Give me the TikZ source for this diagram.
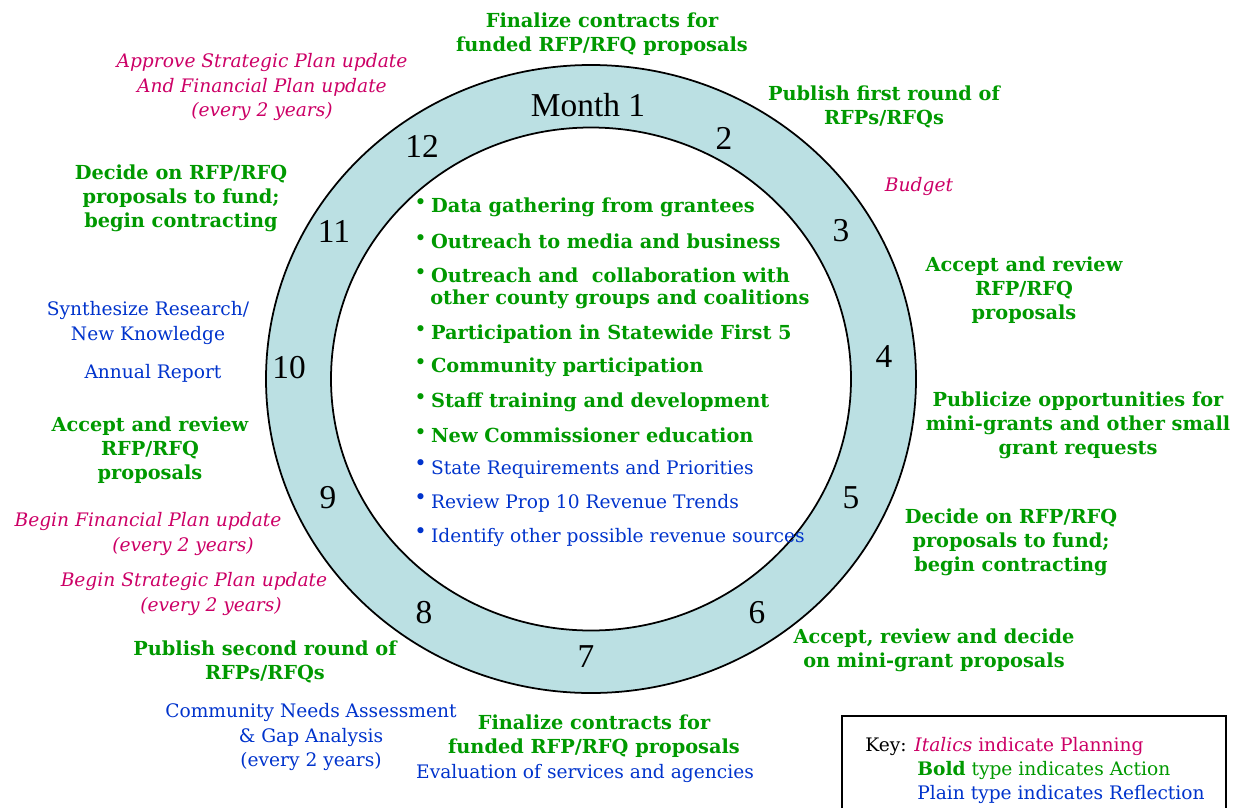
\documentclass[tikz,border=0pt]{standalone}
\usepackage{fontspec}
\setmainfont{DejaVu Serif}
\newfontfamily\numfont{Liberation Serif}
\definecolor{actgreen}{RGB}{0,153,0}
\definecolor{planpink}{RGB}{204,0,102}
\definecolor{refblue}{RGB}{0,51,204}
\definecolor{ringblue}{RGB}{187,224,227}
\newcommand{\labfont}{\fontsize{10.6}{13.7}\selectfont}
\newcommand{\actfont}{\fontsize{11}{13.7}\selectfont\bfseries}
\newcommand{\bul}{\makebox[9.5pt][l]{\raisebox{1.8pt}{\fontsize{12}{12}\selectfont\textbullet}}}

\begin{document}
\begin{tikzpicture}[x=0.02cm,y=-0.02cm]

    \tikzset{
      act/.style={text=actgreen, font=\actfont, align=center, inner sep=0pt},
      plan/.style={text=planpink, font=\labfont\itshape, align=center, inner sep=0pt},
      refl/.style={text=refblue, font=\labfont, align=center, inner sep=0pt},
      month/.style={font=\numfont\fontsize{19}{22}\selectfont, inner sep=0pt},
      task/.style={anchor=west, inner sep=0pt, font=\labfont},
    }

	\useasboundingbox (0,0) rectangle (1240,808);

	% ring of months
	\fill[ringblue,even odd rule] (591,379) ellipse [x radius=325, y radius=314] (591,379) ellipse [x radius=260, y radius=251.5];
	\draw[line width=1pt] (591,379) ellipse [x radius=325, y radius=314];
	\draw[line width=1pt] (591,379) ellipse [x radius=260, y radius=251.5];

	\node[month] (m1) at (588,105) {Month 1};
	\node[month] (m2) at (724,138) {2};
	\node[month] (m3) at (841,231) {3};
	\node[month] (m4) at (884,357) {4};
	\node[month] (m5) at (851,498) {5};
	\node[month] (m6) at (757,613) {6};
	\node[month] (m7) at (586,657) {7};
	\node[month] (m8) at (424,613) {8};
	\node[month] (m9) at (328,498) {9};
	\node[month] (m10) at (289,368) {10};
	\node[month] (m11) at (334,231) {11};
	\node[month] (m12) at (422,146) {12};

	% year-round tasks
	\node[task,text=actgreen] (t1) at (414,207) {\bul{\actfont Data gathering from grantees}};
	\node[task,text=actgreen] (t2) at (414,241) {\bul{\actfont Outreach to media and business}};
	\node[task,text=actgreen] (t3) at (414,275) {\bul{\actfont Outreach and\ \ collaboration with}};
	\node[task,text=actgreen] (t3b) at (430,299) {{\actfont other county groups and coalitions}};
	\node[task,text=actgreen] (t4) at (414,334) {\bul{\actfont Participation in Statewide First 5}};
	\node[task,text=actgreen] (t5) at (414,367) {\bul{\actfont Community participation}};
	\node[task,text=actgreen] (t6) at (414,402) {\bul{\actfont Staff training and development}};
	\node[task,text=actgreen] (t7) at (414,435) {\bul{\actfont New Commissioner education}};
	\node[task,text=refblue] (t8) at (414,469) {\bul State Requirements and Priorities};
	\node[task,text=refblue] (t9) at (414,503) {\bul Review Prop 10 Revenue Trends};
	\node[task,text=refblue] (t10) at (414,537) {\bul Identify other possible revenue sources};

	% monthly steps
	\node[act] (fin1) at (602,34) {Finalize contracts for\\funded RFP/RFQ proposals};
	\node[plan] (approve) at (262,87) {Approve Strategic Plan update\\And Financial Plan update\\(every 2 years)};
	\node[act] (pub1) at (884,107) {Publish first round of\\RFPs/RFQs};
	\node[plan] (budget) at (919,186) {Budget};
	\node[act] (dec1) at (181,198) {Decide on RFP/RFQ\\proposals to fund;\\begin contracting};
	\node[act] (acc1) at (1024,290) {Accept and review\\RFP/RFQ\\proposals};
	\node[refl] (synth) at (148,323) {Synthesize Research/\\New Knowledge};
	\node[refl] (annual) at (153,373) {Annual Report};
	\node[act] (acc2) at (150,450) {Accept and review\\RFP/RFQ\\proposals};
	\node[act] (publ) at (1078,425) {Publicize opportunities for\\mini-grants and other small\\grant requests};
	\node[act] (dec2) at (1011,542) {Decide on RFP/RFQ\\proposals to fund;\\begin contracting};
	\node[plan] (bfin) at (148,534) {Begin Financial Plan update\\\hspace*{1.4cm}(every 2 years)};
	\node[plan] (bstrat) at (194,594) {Begin Strategic Plan update\\\hspace*{0.68cm}(every 2 years)};
	\node[act] (pub2) at (265,662) {Publish second round of\\RFPs/RFQs};
	\node[refl] (cna) at (311,737) {Community Needs Assessment\\\& Gap Analysis\\(every 2 years)};
	\node[act] (fin2) at (594,736) {Finalize contracts for\\funded RFP/RFQ proposals};
	\node[refl] (eval) at (585,773) {Evaluation of services and agencies};
	\node[act] (mini) at (934,650) {Accept, review and decide\\on mini-grant proposals};

	% key
	\draw[line width=1pt] (842,808) -- (842,716) -- (1226,716) -- (1226,808);
	\node[task] (key1) at (865,746) {Key: \textcolor{planpink}{\textit{Italics} indicate Planning}};
	\node[task,text=actgreen] (key2) at (917,770) {\textbf{Bold} type indicates Action};
	\node[task,text=refblue] (key3) at (917,794) {Plain type indicates Reflection};

\end{tikzpicture}
\end{document}
